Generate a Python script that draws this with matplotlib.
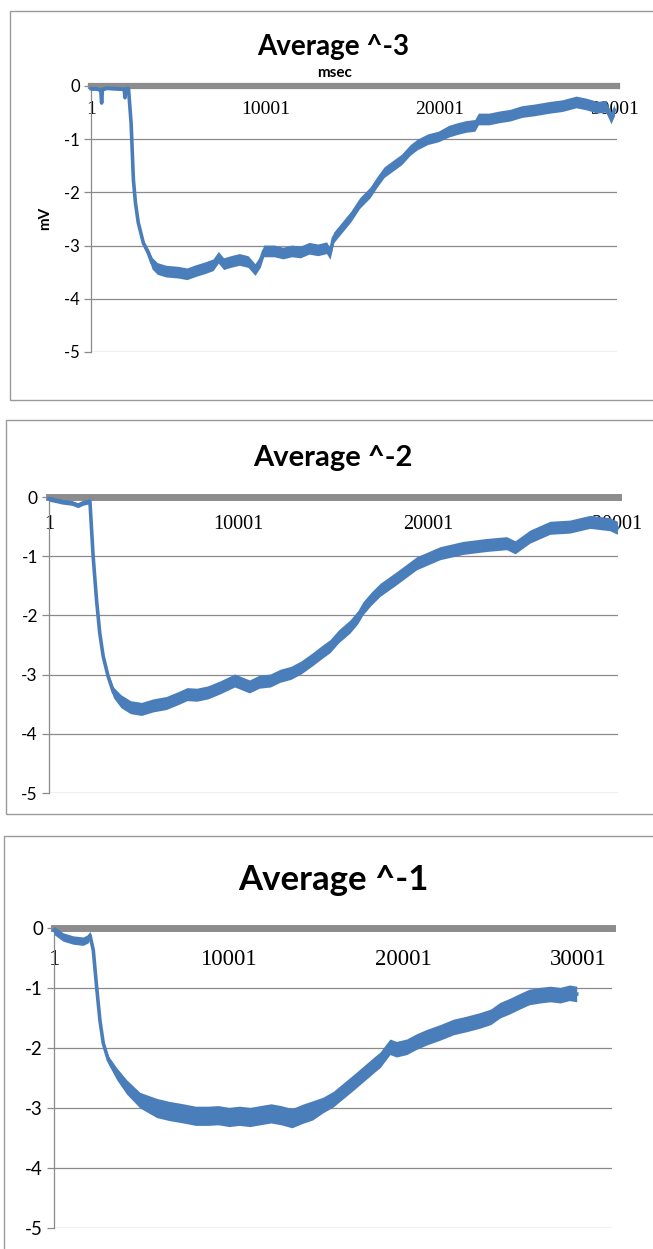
import matplotlib
matplotlib.use("Agg")
import matplotlib.pyplot as plt
from matplotlib.patches import Rectangle

W, H = 653, 1249

# ---- data (msec, mV) ----
# "Average ^-3"
t3 = [1, 300, 560, 610, 660, 900, 1500, 1900, 1950, 2000, 2150, 2300, 2430, 2550, 2710, 3000,
      3300, 3500, 3800, 4300, 5000, 5500, 6000, 6500, 7000, 7300, 7600, 8000, 8500, 9000,
      9400, 9700, 9900, 10500, 11000, 11500, 12000, 12500, 13000, 13500, 13700, 13900,
      14400, 14900, 15400, 16000, 16400, 16800, 17300, 17800, 18300, 18700, 19300, 19900,
      20500, 21000, 21500, 22000, 22200, 22800, 23400, 24000, 24700, 25400, 26300, 27000,
      27800, 28400, 29000, 29500, 29800, 30000]
v3 = [-0.05, -0.05, -0.08, -0.32, -0.06, -0.04, -0.05, -0.06, -0.22, -0.05, -0.05, -0.7, -1.76,
      -2.2, -2.57, -2.95, -3.15, -3.33, -3.43, -3.48, -3.5, -3.53, -3.47, -3.42, -3.36, -3.22,
      -3.34, -3.3, -3.26, -3.3, -3.45, -3.3, -3.1, -3.1, -3.14, -3.1, -3.12, -3.05, -3.08,
      -3.04, -3.15, -2.85, -2.65, -2.45, -2.2, -2.0, -1.8, -1.62, -1.5, -1.38, -1.2, -1.1,
      -1.0, -0.95, -0.85, -0.8, -0.76, -0.74, -0.62, -0.62, -0.58, -0.55, -0.48, -0.45,
      -0.4, -0.37, -0.3, -0.34, -0.4, -0.38, -0.6, -0.45]
# half width of the noise band around the trace
n3 = [0.03, 0.03, 0.03, 0.03, 0.03, 0.03, 0.03, 0.03, 0.03, 0.03, 0.03, 0.03, 0.04, 0.04,
      0.04, 0.05, 0.08, 0.11, 0.11, 0.11, 0.11, 0.11, 0.11, 0.11, 0.11, 0.11, 0.11, 0.11,
      0.11, 0.11, 0.11, 0.11, 0.11, 0.11, 0.11, 0.11, 0.11, 0.11, 0.11, 0.11, 0.11, 0.1,
      0.1, 0.1, 0.1, 0.1, 0.1, 0.1, 0.1, 0.1, 0.1, 0.1, 0.1, 0.1, 0.11, 0.11, 0.11, 0.11,
      0.11, 0.11, 0.11, 0.11, 0.11, 0.11, 0.11, 0.11, 0.11, 0.11, 0.11, 0.11, 0.11, 0.11]

# "Average ^-2"
t2 = [1, 700, 1200, 1530, 1800, 2050, 2160, 2330, 2510, 2680, 2860, 3120, 3400, 3800, 4300,
      4880, 5500, 6190, 6800, 7290, 7800, 8390, 9000, 9800, 10580, 11100, 11680, 12200,
      12770, 13300, 13870, 14400, 14830, 15300, 15880, 16300, 16570, 17000, 17470, 18350,
      19400, 20630, 21850, 23100, 24150, 24600, 25380, 26440, 27490, 28550, 29600, 30000]
v2 = [-0.03, -0.08, -0.1, -0.14, -0.1, -0.08, -0.07, -1.0, -1.74, -2.3, -2.69, -3.03, -3.3,
      -3.45, -3.55, -3.58, -3.52, -3.48, -3.4, -3.33, -3.34, -3.3, -3.22, -3.1, -3.2, -3.12,
      -3.1, -3.02, -2.97, -2.88, -2.75, -2.62, -2.52, -2.35, -2.19, -2.03, -1.88, -1.72,
      -1.57, -1.37, -1.12, -0.95, -0.86, -0.81, -0.78, -0.85, -0.67, -0.52, -0.5, -0.42,
      -0.46, -0.52]
n2 = [0.04, 0.04, 0.04, 0.04, 0.04, 0.04, 0.04, 0.03, 0.03, 0.03, 0.03, 0.06, 0.09, 0.11,
      0.11, 0.11, 0.11, 0.11, 0.11, 0.11, 0.11, 0.11, 0.11, 0.11, 0.11, 0.11, 0.11, 0.11,
      0.11, 0.11, 0.11, 0.11, 0.11, 0.11, 0.11, 0.11, 0.11, 0.11, 0.11, 0.11, 0.11, 0.11,
      0.11, 0.11, 0.11, 0.11, 0.11, 0.11, 0.11, 0.11, 0.11, 0.11]

# "Average ^-1"
t1 = [1, 520, 1090, 1660, 1950, 2060, 2250, 2440, 2630, 2820, 3110, 3590, 4160, 4920, 5880,
      6600, 7400, 8100, 8830, 9400, 10020, 10600, 11220, 11800, 12420, 13000, 13620, 14200,
      14800, 15400, 16000, 16370, 17200, 17520, 18400, 18660, 19230, 19600, 20190, 20700,
      21330, 22100, 22860, 23600, 24380, 25000, 25530, 26100, 26670, 27200, 27820, 28400,
      28970, 29500, 29920]
v1 = [-0.04, -0.15, -0.2, -0.22, -0.18, -0.12, -0.37, -0.98, -1.54, -1.92, -2.2, -2.43,
      -2.65, -2.87, -3.0, -3.05, -3.09, -3.13, -3.13, -3.12, -3.15, -3.13, -3.15, -3.12,
      -3.09, -3.12, -3.17, -3.1, -3.04, -2.95, -2.85, -2.76, -2.56, -2.48, -2.26, -2.2,
      -1.98, -2.02, -1.98, -1.9, -1.82, -1.74, -1.65, -1.6, -1.54, -1.48, -1.37, -1.3,
      -1.22, -1.15, -1.12, -1.1, -1.12, -1.08, -1.1]
n1 = [0.07, 0.07, 0.07, 0.07, 0.07, 0.07, 0.04, 0.04, 0.04, 0.04, 0.07, 0.1, 0.12, 0.13,
      0.16, 0.16, 0.16, 0.16, 0.16, 0.16, 0.16, 0.16, 0.16, 0.16, 0.16, 0.16, 0.16, 0.16,
      0.16, 0.13, 0.13, 0.13, 0.13, 0.13, 0.13, 0.13, 0.13, 0.13, 0.13, 0.13, 0.13, 0.13,
      0.13, 0.13, 0.13, 0.13, 0.13, 0.13, 0.13, 0.13, 0.13, 0.13, 0.13, 0.13, 0.13]

xticks = [1, 10001, 20001, 30001]
yticks = [0, -1, -2, -3, -4, -5]

blue = "#4a7ebb"
grey_axis = "#8c8c8c"
grid_col = "#8a8a8a"
sans = "Lato"
serif = "Liberation Serif"

fig = plt.figure(figsize=(W / 100, H / 100), dpi=100)


def fx(px):
    return px / W


def fy(py):
    return 1 - py / H


def panel(t, v, n, left, right, top, bottom, xmax, tick_size, ytick_size, bar_lw, pad):
    ax = fig.add_axes([fx(left), fy(bottom), fx(right - left), (bottom - top) / H])
    # move the x axis onto y = 0 first: this resets the tick objects
    ax.spines["bottom"].set_position(("data", 0))
    lo = [a - b for a, b in zip(v, n)]
    hi = [a + b for a, b in zip(v, n)]
    ax.fill_between(t, lo, hi, color=blue, lw=0, zorder=4, clip_on=False)
    ax.plot(t, v, color=blue, lw=2.6, zorder=4, clip_on=False, solid_joinstyle="round")
    ax.set_xlim(1, xmax)
    ax.set_ylim(-5, 0)
    ax.set_xticks(xticks)
    ax.set_xticklabels([str(x) for x in xticks], fontsize=tick_size, family=serif)
    ax.set_yticks(yticks)
    ax.set_yticklabels([str(y) for y in yticks], fontsize=ytick_size, family=sans)
    ax.spines["top"].set_visible(False)
    ax.spines["right"].set_visible(False)
    ax.spines["bottom"].set_color(grey_axis)
    ax.spines["bottom"].set_linewidth(bar_lw)
    ax.spines["bottom"].set_zorder(3)
    ax.spines["left"].set_color(grid_col)
    ax.spines["left"].set_linewidth(0.9)
    ax.tick_params(axis="x", length=0, pad=pad, labelcolor="black")
    ax.tick_params(axis="y", length=5, width=0.9, color=grid_col, pad=3)
    ax.yaxis.grid(True, color=grid_col, lw=0.9)
    ax.set_axisbelow(True)
    ax.patch.set_alpha(0)
    return ax


def box(left, top, right, bottom):
    fig.patches.append(Rectangle((fx(left), fy(bottom)), fx(right - left), (bottom - top) / H,
                                 transform=fig.transFigure, fill=False, ec="#9a9a9a", lw=1.0))


# panel "Average ^-3"
box(10, 11, 700, 400)
panel(t3, v3, n3, 91, 617, 86, 352, 30145, 14, 12, 4.5, 11)
fig.text(fx(333), fy(55), "Average ^-3", ha="center", va="baseline", fontsize=20,
         family=sans, weight="bold")
fig.text(fx(335), fy(77), "msec", ha="center", va="baseline", fontsize=11,
         family=sans, weight="bold")
fig.text(fx(45), fy(218), "mV", ha="center", va="center", rotation=90, fontsize=11,
         family=sans, weight="bold")

# panel "Average ^-2"
box(6, 420, 700, 814)
panel(t2, v2, n2, 49, 618, 497, 793, 30030, 14.5, 12.5, 5, 13)
fig.text(fx(333), fy(466), "Average ^-2", ha="center", va="baseline", fontsize=21,
         family=sans, weight="bold")

# panel "Average ^-1"
box(4, 836, 700, 1300)
panel(t1, v1, n1, 54, 612, 928, 1228, 31940, 16.5, 13.5, 5, 15)
fig.text(fx(333), fy(890), "Average ^-1", ha="center", va="baseline", fontsize=25,
         family=sans, weight="bold")

fig.savefig("out.png", dpi=100)
